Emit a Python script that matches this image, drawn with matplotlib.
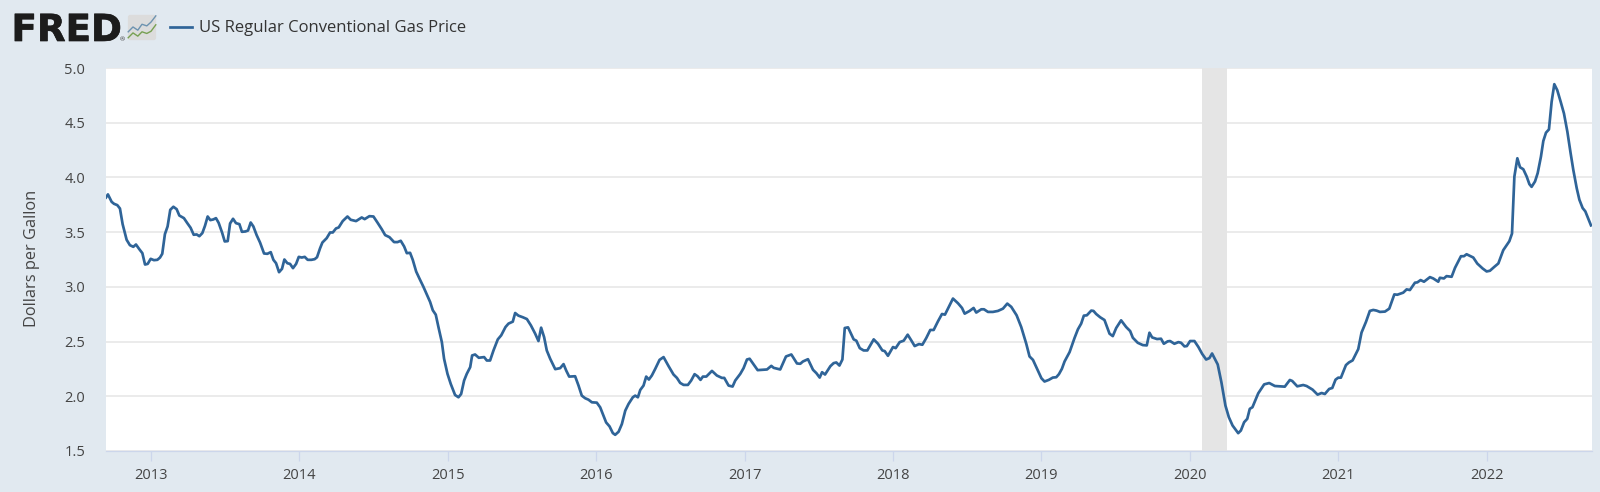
import matplotlib as mpl
mpl.use('Agg')
import matplotlib.pyplot as plt
from matplotlib import patheffects
from matplotlib.patches import FancyBboxPatch

plt.rcParams['font.family'] = ['Open Sans', 'DejaVu Sans']

# weekly-ish readings, decimal year
years_2012_14 = [2012.697, 2012.710, 2012.735, 2012.751, 2012.773, 2012.791, 2012.809, 2012.836, 2012.858, 2012.881,
                 2012.899, 2012.921, 2012.942, 2012.960, 2012.978, 2012.998, 2013.020, 2013.043, 2013.061, 2013.076,
                 2013.094, 2013.112, 2013.130, 2013.151, 2013.173, 2013.191, 2013.222, 2013.245, 2013.267, 2013.288,
                 2013.308, 2013.326, 2013.346, 2013.364, 2013.382, 2013.400, 2013.420, 2013.438, 2013.456, 2013.479,
                 2013.497, 2013.517, 2013.533, 2013.553, 2013.573, 2013.596, 2013.613, 2013.636, 2013.654, 2013.672,
                 2013.690, 2013.712, 2013.735, 2013.762, 2013.784, 2013.807, 2013.825, 2013.843, 2013.863, 2013.883,
                 2013.899, 2013.919, 2013.937, 2013.957, 2013.978, 2013.996, 2014.016, 2014.036, 2014.056, 2014.081,
                 2014.103, 2014.119, 2014.139, 2014.155, 2014.184, 2014.207, 2014.225, 2014.247, 2014.265, 2014.292,
                 2014.324, 2014.346, 2014.382, 2014.420, 2014.440, 2014.472, 2014.499, 2014.526, 2014.555, 2014.578,
                 2014.607, 2014.638, 2014.661, 2014.683, 2014.706, 2014.724, 2014.746, 2014.764, 2014.787]
price_2012_14 = [3.817, 3.845, 3.777, 3.759, 3.747, 3.716, 3.573, 3.430, 3.381, 3.366,
                 3.387, 3.345, 3.308, 3.204, 3.210, 3.256, 3.244, 3.247, 3.268, 3.302,
                 3.482, 3.552, 3.704, 3.732, 3.710, 3.652, 3.628, 3.582, 3.540, 3.476,
                 3.479, 3.463, 3.491, 3.558, 3.643, 3.610, 3.616, 3.628, 3.585, 3.497,
                 3.415, 3.418, 3.579, 3.622, 3.582, 3.573, 3.503, 3.506, 3.515, 3.588,
                 3.552, 3.473, 3.405, 3.305, 3.302, 3.317, 3.247, 3.216, 3.134, 3.165,
                 3.250, 3.216, 3.210, 3.171, 3.210, 3.274, 3.268, 3.274, 3.247, 3.247,
                 3.253, 3.271, 3.351, 3.405, 3.445, 3.497, 3.497, 3.534, 3.543, 3.601,
                 3.643, 3.613, 3.601, 3.634, 3.619, 3.646, 3.643, 3.588, 3.527, 3.473,
                 3.454, 3.409, 3.409, 3.421, 3.369, 3.308, 3.311, 3.247, 3.140]

years_2014_17 = [2014.809, 2014.836, 2014.881, 2014.899, 2014.919, 2014.937, 2014.960, 2014.975, 2014.998, 2015.020,
                 2015.049, 2015.072, 2015.090, 2015.110, 2015.128, 2015.151, 2015.164, 2015.184, 2015.209, 2015.245,
                 2015.263, 2015.285, 2015.308, 2015.337, 2015.360, 2015.389, 2015.409, 2015.438, 2015.454, 2015.476,
                 2015.506, 2015.533, 2015.560, 2015.589, 2015.611, 2015.629, 2015.649, 2015.667, 2015.690, 2015.724,
                 2015.757, 2015.780, 2015.798, 2015.818, 2015.858, 2015.881, 2015.903, 2015.926, 2015.948, 2015.971,
                 2016.004, 2016.027, 2016.049, 2016.067, 2016.090, 2016.112, 2016.128, 2016.151, 2016.173, 2016.196,
                 2016.218, 2016.247, 2016.263, 2016.281, 2016.297, 2016.319, 2016.337, 2016.355, 2016.375, 2016.398,
                 2016.427, 2016.454, 2016.488, 2016.521, 2016.544, 2016.566, 2016.589, 2016.618, 2016.640, 2016.663,
                 2016.683, 2016.703, 2016.719, 2016.742, 2016.780, 2016.813, 2016.847, 2016.863, 2016.892, 2016.919,
                 2016.937, 2016.971, 2016.993, 2017.016, 2017.034, 2017.061, 2017.088, 2017.117, 2017.151, 2017.180,
                 2017.196, 2017.240, 2017.279, 2017.315, 2017.353, 2017.375]
price_2014_17 = [3.076, 3.000, 2.862, 2.786, 2.746, 2.633, 2.495, 2.343, 2.205, 2.113,
                 2.012, 1.991, 2.021, 2.144, 2.205, 2.266, 2.373, 2.382, 2.352, 2.358,
                 2.327, 2.327, 2.419, 2.520, 2.557, 2.633, 2.664, 2.682, 2.761, 2.737,
                 2.722, 2.706, 2.648, 2.572, 2.505, 2.627, 2.541, 2.419, 2.343, 2.248,
                 2.257, 2.294, 2.235, 2.180, 2.183, 2.098, 2.006, 1.982, 1.969, 1.945,
                 1.942, 1.899, 1.823, 1.761, 1.725, 1.664, 1.648, 1.676, 1.746, 1.869,
                 1.930, 1.991, 2.006, 1.991, 2.058, 2.098, 2.180, 2.153, 2.190, 2.251,
                 2.333, 2.358, 2.275, 2.199, 2.168, 2.122, 2.104, 2.104, 2.144, 2.202,
                 2.183, 2.150, 2.180, 2.180, 2.232, 2.190, 2.168, 2.168, 2.098, 2.089,
                 2.144, 2.205, 2.257, 2.336, 2.343, 2.291, 2.239, 2.242, 2.245, 2.278,
                 2.260, 2.245, 2.364, 2.382, 2.300, 2.297]

years_2017_20 = [2017.393, 2017.427, 2017.461, 2017.484, 2017.506, 2017.522, 2017.542, 2017.578, 2017.600, 2017.618,
                 2017.639, 2017.659, 2017.675, 2017.697, 2017.735, 2017.753, 2017.776, 2017.802, 2017.827, 2017.870,
                 2017.899, 2017.928, 2017.944, 2017.966, 2018.000, 2018.018, 2018.045, 2018.072, 2018.099, 2018.123,
                 2018.146, 2018.175, 2018.198, 2018.224, 2018.251, 2018.274, 2018.303, 2018.330, 2018.350, 2018.382,
                 2018.404, 2018.438, 2018.465, 2018.483, 2018.516, 2018.543, 2018.561, 2018.595, 2018.613, 2018.640,
                 2018.673, 2018.707, 2018.741, 2018.770, 2018.797, 2018.833, 2018.864, 2018.898, 2018.920, 2018.943,
                 2018.976, 2019.000, 2019.021, 2019.050, 2019.077, 2019.100, 2019.118, 2019.138, 2019.156, 2019.190,
                 2019.223, 2019.246, 2019.268, 2019.286, 2019.306, 2019.336, 2019.351, 2019.369, 2019.396, 2019.425,
                 2019.459, 2019.481, 2019.504, 2019.537, 2019.571, 2019.598, 2019.616, 2019.649, 2019.683, 2019.710,
                 2019.728, 2019.746, 2019.779, 2019.806, 2019.825, 2019.851, 2019.867, 2019.896, 2019.923, 2019.941,
                 2019.964, 2019.980, 2020.002, 2020.031, 2020.058, 2020.083, 2020.110, 2020.132, 2020.150, 2020.188]
price_2017_20 = [2.318, 2.339, 2.242, 2.211, 2.171, 2.220, 2.199, 2.275, 2.303, 2.309,
                 2.281, 2.336, 2.624, 2.630, 2.520, 2.508, 2.440, 2.419, 2.419, 2.520,
                 2.480, 2.419, 2.413, 2.370, 2.450, 2.440, 2.495, 2.508, 2.563, 2.511,
                 2.459, 2.477, 2.471, 2.532, 2.606, 2.606, 2.685, 2.752, 2.746, 2.832,
                 2.893, 2.850, 2.807, 2.755, 2.780, 2.807, 2.765, 2.795, 2.795, 2.771,
                 2.771, 2.780, 2.801, 2.847, 2.817, 2.740, 2.633, 2.480, 2.364, 2.333,
                 2.235, 2.165, 2.135, 2.150, 2.171, 2.174, 2.202, 2.251, 2.318, 2.404,
                 2.532, 2.612, 2.664, 2.737, 2.740, 2.783, 2.780, 2.752, 2.722, 2.697,
                 2.572, 2.550, 2.624, 2.694, 2.633, 2.596, 2.535, 2.489, 2.468, 2.465,
                 2.581, 2.538, 2.523, 2.526, 2.480, 2.502, 2.505, 2.480, 2.495, 2.489,
                 2.456, 2.459, 2.505, 2.505, 2.450, 2.388, 2.336, 2.349, 2.391, 2.291]

years_2020_22 = [2020.213, 2020.240, 2020.263, 2020.288, 2020.326, 2020.344, 2020.366, 2020.387, 2020.404, 2020.422,
                 2020.461, 2020.501, 2020.535, 2020.573, 2020.607, 2020.640, 2020.674, 2020.690, 2020.724, 2020.764,
                 2020.787, 2020.827, 2020.861, 2020.888, 2020.910, 2020.939, 2020.960, 2020.982, 2021.000, 2021.018,
                 2021.052, 2021.072, 2021.097, 2021.135, 2021.157, 2021.187, 2021.213, 2021.236, 2021.258, 2021.281,
                 2021.315, 2021.344, 2021.378, 2021.398, 2021.438, 2021.461, 2021.483, 2021.517, 2021.533, 2021.555,
                 2021.578, 2021.618, 2021.640, 2021.674, 2021.685, 2021.712, 2021.730, 2021.764, 2021.787, 2021.827,
                 2021.847, 2021.865, 2021.910, 2021.937, 2021.973, 2022.000, 2022.022, 2022.052, 2022.079, 2022.112,
                 2022.153, 2022.171, 2022.187, 2022.207, 2022.225, 2022.247, 2022.270, 2022.288, 2022.303, 2022.326,
                 2022.344, 2022.366, 2022.382, 2022.400, 2022.420, 2022.438, 2022.456, 2022.476, 2022.499, 2022.521,
                 2022.544, 2022.566, 2022.584, 2022.607, 2022.625, 2022.647, 2022.665, 2022.685, 2022.703]
price_2020_22 = [2.127, 1.915, 1.809, 1.733, 1.663, 1.687, 1.763, 1.794, 1.885, 1.900,
                 2.027, 2.109, 2.121, 2.094, 2.091, 2.088, 2.149, 2.140, 2.091, 2.103,
                 2.094, 2.061, 2.015, 2.030, 2.021, 2.067, 2.076, 2.152, 2.170, 2.170,
                 2.285, 2.309, 2.328, 2.431, 2.582, 2.680, 2.780, 2.789, 2.783, 2.771,
                 2.774, 2.801, 2.931, 2.928, 2.947, 2.977, 2.971, 3.038, 3.041, 3.062,
                 3.047, 3.089, 3.077, 3.047, 3.083, 3.077, 3.098, 3.092, 3.174, 3.280,
                 3.280, 3.298, 3.268, 3.213, 3.168, 3.141, 3.147, 3.183, 3.214, 3.335,
                 3.417, 3.487, 4.008, 4.175, 4.093, 4.075, 4.008, 3.939, 3.914, 3.963,
                 4.039, 4.190, 4.333, 4.409, 4.439, 4.691, 4.852, 4.797, 4.691, 4.585,
                 4.418, 4.221, 4.069, 3.902, 3.796, 3.720, 3.690, 3.623, 3.562]

years = years_2012_14 + years_2014_17 + years_2017_20 + years_2020_22
price = price_2012_14 + price_2014_17 + price_2017_20 + price_2020_22

recession = [2020.08, 2020.25]
x_ticks = [2013, 2014, 2015, 2016, 2017, 2018, 2019, 2020, 2021, 2022]
y_ticks = [1.5, 2.0, 2.5, 3.0, 3.5, 4.0, 4.5, 5.0]
series_name = 'US Regular Conventional Gas Price'
y_title = 'Dollars per Gallon'

bg = '#e1e9f0'
line_col = '#2f6498'
W, H = 1600, 492

fig = plt.figure(figsize=(W / 100, H / 100), dpi=100, facecolor=bg)
ax = fig.add_axes([106 / W, 1 - 451 / H, (1591.7 - 106) / W, (451 - 68) / H])
ax.set_facecolor('white')

ax.axvspan(recession[0], recession[1], color='#e5e5e5', lw=0, zorder=2)
ax.plot(years, price, color=line_col, lw=1.95, solid_joinstyle='round', zorder=3)

ax.set_xlim(2012.697, 2022.708)
ax.set_ylim(1.5, 5.0)
ax.set_xticks(x_ticks)
ax.set_xticklabels([str(y) for y in x_ticks])
ax.set_yticks(y_ticks)
ax.set_yticklabels(['%.1f' % y for y in y_ticks])
ax.grid(axis='y', color='#e6e6e6', lw=1.1, zorder=1)
ax.set_axisbelow(True)

for side in ['top', 'left', 'right']:
    ax.spines[side].set_visible(False)
ax.spines['bottom'].set_color('#ccd6eb')
ax.spines['bottom'].set_linewidth(0.9)
ax.tick_params(axis='x', length=7.5, width=0.9, color='#ccd6eb', labelsize=10.5, labelcolor='#444444', pad=5)
ax.tick_params(axis='y', length=0, labelsize=10.5, labelcolor='#444444', pad=15)

fig.text(32 / W, 1 - 258 / H, y_title, rotation=90, ha='center', va='center', fontsize=11.8, color='#444444')

# header: logo and legend
fig.text(11.5 / W, 1 - 41 / H, 'FRED', family='DejaVu Sans', fontweight='bold', fontsize=26.8, color='#1c1c1c',
         ha='left', va='baseline',
         path_effects=[patheffects.withStroke(linewidth=0.5, foreground='#1c1c1c')])
fig.text(122 / W, 1 - 41.5 / H, '®', fontsize=4.5, color='#333333', ha='center', va='baseline')

icon = fig.add_axes([127 / W, 1 - 41 / H, 30 / W, 27 / H])
icon.set_xlim(0, 10)
icon.set_ylim(0, 10)
icon.axis('off')
icon.add_patch(FancyBboxPatch((0.3, 0.3), 9.4, 9.4, boxstyle='round,pad=0,rounding_size=0.8',
                              fc='#dcdcdc', ec='none'))
icon.plot([0.4, 2, 3.6, 5, 6.6, 8, 9.6], [3.4, 5.2, 4, 6.2, 5.6, 7, 9.3], color='#6d93b0', lw=1)
icon.plot([0.4, 2, 3.6, 5, 6.6, 8, 9.6], [1.2, 3, 1.8, 3.4, 2.8, 3.6, 6], color='#77a052', lw=1)

fig.add_artist(plt.Line2D([170 / W, 192 / W], [1 - 27 / H, 1 - 27 / H], color=line_col, lw=1.95))
fig.text(199 / W, 1 - 27.5 / H, series_name, fontsize=11.95, color='#333333', ha='left', va='center')

fig.savefig('out.png', dpi=100, facecolor=bg)
